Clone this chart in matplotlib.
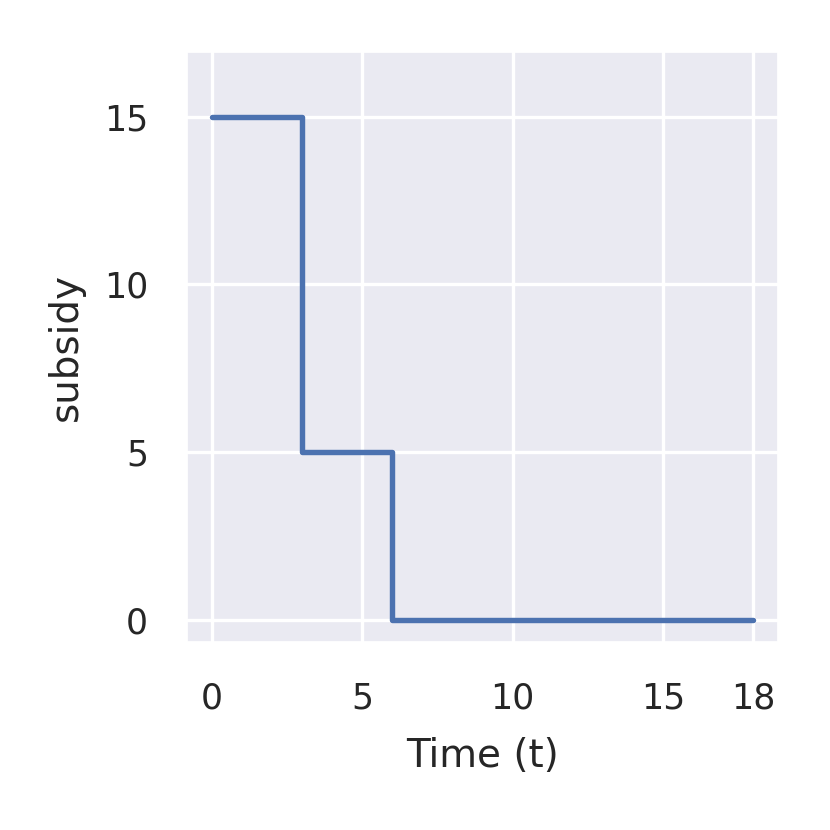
import matplotlib
matplotlib.use("Agg")
import matplotlib.pyplot as plt
import seaborn as sns

time = [0, 3, 6, 18]
subsidy = [15, 5, 0, 0]
xticks = [0, 5, 10, 15, 18]
yticks = [0, 5, 10, 15]

sns.set_theme(style="darkgrid")
plt.rcParams['font.family'] = ['DejaVu Sans']

fig = plt.figure(figsize=(8.3, 8.3), dpi=100)
ax = fig.add_axes([187/830, (830-642.3)/830, (777.7-186.7)/830, (642.3-52)/830])
ax.step(time, subsidy, where='post', color='#4c72b0', lw=3.9, solid_capstyle='round', solid_joinstyle='round')
ax.set_xlim(-0.83, 18.82)
ax.set_ylim(-0.68, 16.93)
ax.set_xticks(xticks)
ax.set_yticks(yticks)
ax.grid(True, color='white', lw=2.4)
ax.tick_params(axis='both', labelsize=25, pad=28, length=0, labelcolor='#262626')
ax.set_xlabel("Time (t)", fontsize=28, color='#262626', labelpad=16)
ax.set_ylabel("subsidy", fontsize=28, color='#262626', labelpad=14)
fig.savefig("out.png", dpi=100)
